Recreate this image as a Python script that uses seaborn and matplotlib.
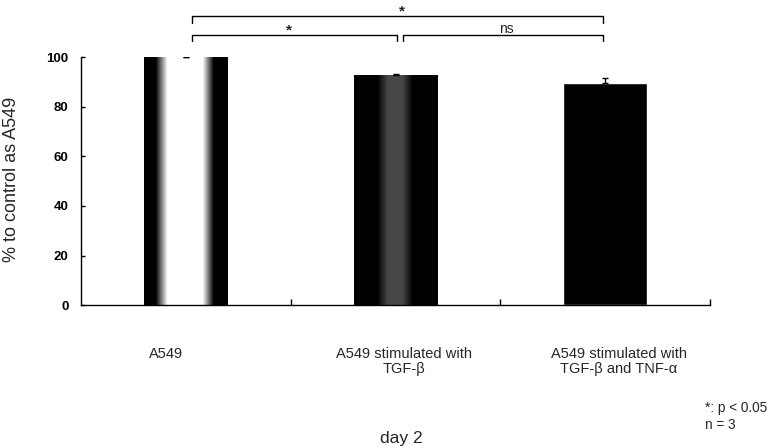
import numpy as np
import pandas as pd
import matplotlib
matplotlib.use("Agg")
import matplotlib.pyplot as plt
import seaborn as sns

# Cell viability relative to untreated A549 cells, day 2 (mean, upper SD)
groups = ["A549", "A549 stimulated with\nTGF-β", "A549 stimulated with\nTGF-β and TNF-α"]
percent = [100.0, 92.8, 89.8]
sd_upper = [0.3, 0.4, 1.9]
y_ticks = [0, 20, 40, 60, 80, 100]

sns.set_theme(style="white")
plt.rcParams["font.family"] = ["Liberation Sans", "DejaVu Sans"]

df = pd.DataFrame({"group": groups, "percent": percent})

fig = plt.figure(figsize=(7.74, 4.48), dpi=100)
ax = fig.add_axes([0.1047, 0.319, 0.8126, 0.553])

sns.barplot(data=df, x="group", y="percent", color="black", width=0.4,
            saturation=1, errorbar=None, ax=ax, zorder=2)

bars = ax.patches
xs = [b.get_x() + b.get_width() / 2 for b in bars]

# shaded fills: a light cylinder for the control, a dark one with a grey core for TGF-β
t = np.linspace(0, 1, 400)
shade_ctrl = np.interp(t, [0, 0.14, 0.28, 0.70, 0.83, 1.0], [0, 0, 1, 1, 0, 0])
shade_tgf = np.interp(t, [0, 0.28, 0.40, 0.58, 0.70, 1.0], [0, 0, 0.28, 0.28, 0, 0])
for bar, shade in ((bars[0], shade_ctrl), (bars[1], shade_tgf)):
    x0, w, h = bar.get_x(), bar.get_width(), bar.get_height()
    im = ax.imshow(shade[None, :], extent=[x0, x0 + w, 0, h], cmap="gray",
                   vmin=0, vmax=1, aspect="auto", interpolation="bilinear",
                   zorder=2.1)
    im.set_clip_path(bar)

ax.errorbar(xs, percent, yerr=[[0] * len(sd_upper), sd_upper], fmt="none",
            ecolor="black", elinewidth=1, capsize=2.5, capthick=1, zorder=3)

ax.set_xlim(-0.5, 2.5)
ax.set_ylim(0, 100)
ax.set_yticks(y_ticks)
ax.set_yticklabels([str(v) for v in y_ticks], fontsize=9.5, fontweight="bold")
ax.set_xticks([0.5, 1.5, 2.5])
ax.set_xticklabels([])
ax.set_xlabel("")
ax.tick_params(axis="y", direction="in", length=3, width=1, pad=9, colors="black", left=True)
ax.tick_params(axis="x", direction="in", length=4, width=1, bottom=True, colors="black")
for side in ("top", "right"):
    ax.spines[side].set_visible(False)
for side in ("left", "bottom"):
    ax.spines[side].set_color("black")
    ax.spines[side].set_linewidth(1)

ax.set_ylabel("% to control as A549", fontsize=13)
ax.yaxis.set_label_coords(-0.097, 0.508)

# category captions sit below the axis, slightly off the bar centres
label_shift = [-0.093, 0.04, 0.065]
for i, (shift, name) in enumerate(zip(label_shift, groups)):
    ax.text(i + shift, -0.17, name, transform=ax.get_xaxis_transform(),
            ha="center", va="top", fontsize=10.5, linespacing=1.1)

# significance brackets
def bracket(x1, x2, y, drop, label, lx, ly, size, weight):
    ax.plot([x1, x1, x2, x2], [y - drop, y, y, y - drop], color="black",
            lw=1, clip_on=False, zorder=4)
    ax.text(lx, ly, label, ha="center", va="center", fontsize=size,
            fontweight=weight, clip_on=False)

bracket(0.03, 1.99, 116.5, 2.6, "*", 1.03, 118.4, 11, "bold")
bracket(0.03, 1.005, 108.9, 2.4, "*", 0.49, 110.8, 11, "bold")
bracket(1.035, 1.99, 108.9, 2.4, "ns", 1.53, 111.6, 10, "normal")

fig.text(0.911, 0.089, "*: p < 0.05", ha="left", va="center", fontsize=9.8)
fig.text(0.911, 0.051, "n = 3", ha="left", va="center", fontsize=9.8)
fig.text(0.519, 0.012, "day 2", ha="center", va="baseline", fontsize=12.5)

fig.savefig("out.png", dpi=100, facecolor="white")
